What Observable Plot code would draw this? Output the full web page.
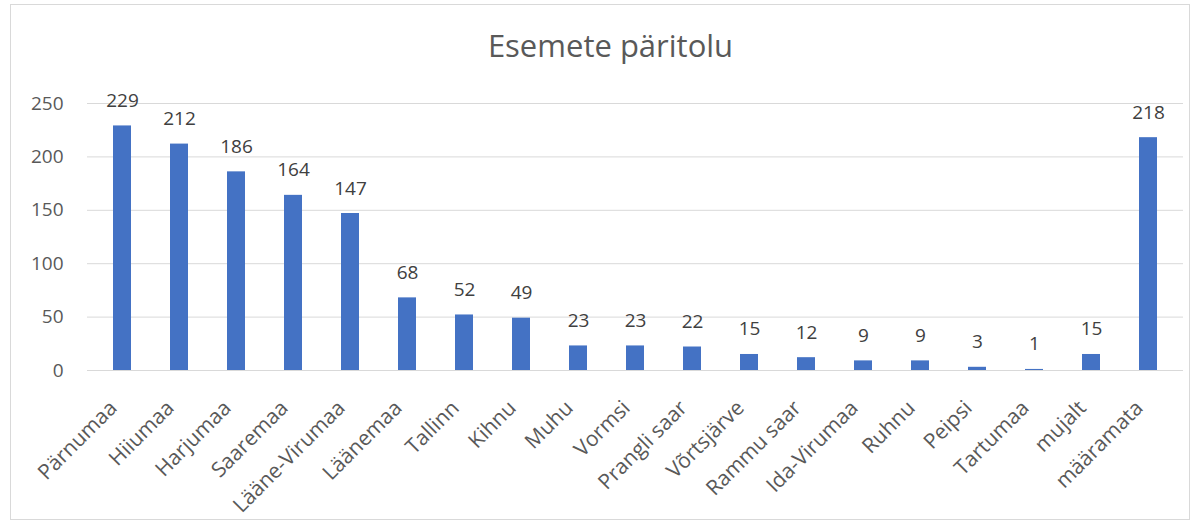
<!DOCTYPE html>
<html>
<head>
<meta charset="utf-8">
<script src="https://cdn.jsdelivr.net/npm/d3@7"></script>
<script src="https://cdn.jsdelivr.net/npm/@observablehq/plot@0.6"></script>
<style>
  html, body { margin: 0; padding: 0; background: #fff; }
  body { width: 1197px; height: 526px; position: relative; overflow: hidden; font-family: "Open Sans", sans-serif; }
  #frame { position: absolute; left: 10px; top: 4px; width: 1178px; height: 514px; border: 1px solid #d9d9d9; pointer-events: none; }
  #title { height: 70px; box-sizing: border-box; padding-top: 29px; padding-left: 24px; text-align: center; font-size: 31px; line-height: 32px; color: #595959; }
  #chart svg { display: block; }
</style>
</head>
<body>
<div id="title">Esemete päritolu</div>
<div id="chart"></div>
<div id="frame"></div>
<script>
const categories = ["Pärnumaa", "Hiiumaa", "Harjumaa", "Saaremaa", "Lääne-Virumaa", "Läänemaa", "Tallinn", "Kihnu", "Muhu", "Vormsi", "Prangli saar", "Võrtsjärve", "Rammu saar", "Ida-Virumaa", "Ruhnu", "Peipsi", "Tartumaa", "mujalt", "määramata"];
const counts = [229, 212, 186, 164, 147, 68, 52, 49, 23, 23, 22, 15, 12, 9, 9, 3, 1, 15, 218];
const yTicks = [0, 50, 100, 150, 200, 250];

const data = categories.map((c, i) => ({ place: c, count: counts[i] }));

const chart = Plot.plot({
  width: 1197,
  height: 456,
  marginTop: 33,
  marginBottom: 156,
  marginLeft: 87,
  marginRight: 14,
  style: { fontFamily: "Open Sans, sans-serif", fontSize: "19px", color: "#595959", background: "transparent" },
  x: { domain: categories, paddingInner: 0.688, paddingOuter: 0.338, align: 0.5, label: null },
  y: { domain: [0, 250], ticks: yTicks, label: null },
  marks: [
    Plot.gridY(yTicks, { stroke: "#d9d9d9", strokeOpacity: 1, strokeWidth: 1 }),
    Plot.axisY(yTicks, { tickSize: 0, tickPadding: 24, label: null, fill: "#595959", fontSize: 19 }),
    Plot.axisX({ tickSize: 0, tickRotate: -45, tickPadding: 24, dx: -9, dy: 10, label: null, fill: "#595959", fontSize: 21 }),
    Plot.barY(data, { x: "place", y: "count", fill: "#4472C4" }),
    Plot.text(data, { x: "place", y: "count", text: d => String(d.count), lineAnchor: "bottom", dy: -19, fill: "#404040", fontSize: 19 })
  ]
});
document.getElementById("chart").appendChild(chart);
</script>
</body>
</html>
